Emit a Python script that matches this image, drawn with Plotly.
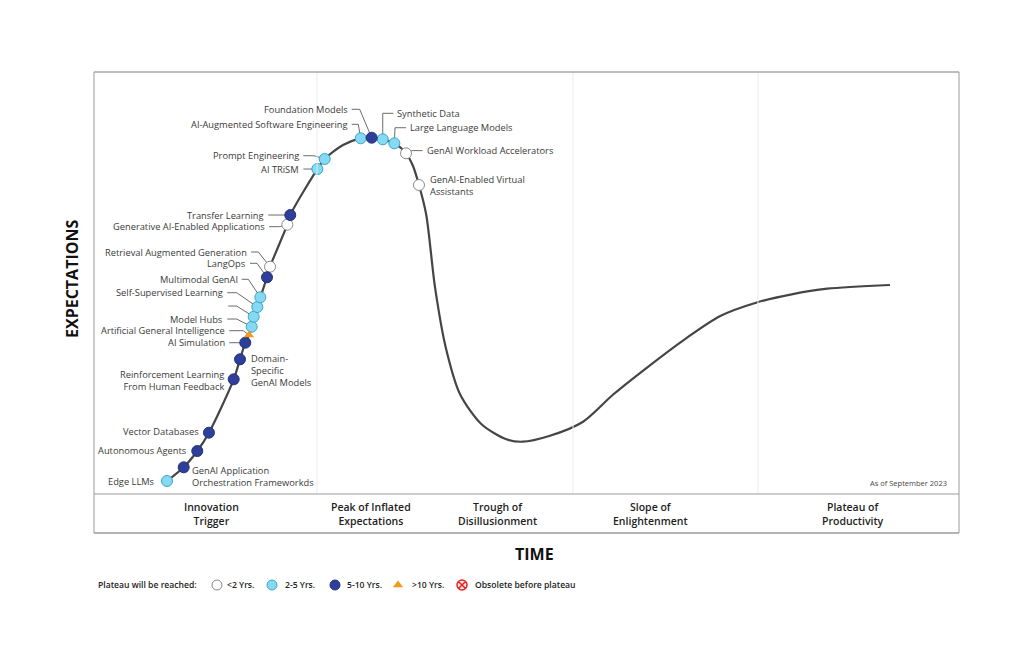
import plotly.graph_objects as go

# ---------------- data ----------------
# Hype curve: time (% of x extent) vs expectations (% of y extent)
curve_time = [8.44, 10.37, 11.94, 13.29, 16.15, 16.88, 17.49, 17.92, 18.23, 18.46, 18.88, 19.23,
              20.0, 20.35, 22.35, 22.69, 25.82, 26.67, 28.79, 30.83, 32.10, 33.38, 34.72, 36.07,
              36.88, 37.57, 38.40, 39.43, 40.67, 42.32, 44.80, 47.68, 49.54, 52.62, 56.54, 60.05,
              64.16, 68.29, 72.40, 76.53, 80.65, 84.77, 92.02]
curve_expect = [3.08, 6.33, 10.19, 14.53, 27.18, 31.92, 35.85, 37.68, 39.64, 42.01, 44.31, 46.61,
                51.35, 53.86, 63.82, 66.11, 77.01, 79.38, 82.70, 84.29, 84.43, 84.05, 83.10, 80.73,
                77.73, 73.22, 66.28, 48.89, 34.67, 23.63, 16.52, 12.96, 12.39, 13.74, 17.13, 23.63,
                30.33, 36.66, 42.18, 45.33, 47.32, 48.65, 49.53]

tech_names = ["Edge LLMs", "GenAI Application<br>Orchestration Frameworkds", "Autonomous Agents",
              "Vector Databases", "Reinforcement Learning<br>From Human Feedback",
              "Domain-<br>Specific<br>GenAI Models", "AI Simulation", "Artificial General Intelligence",
              "Model Hubs", "", "Self-Supervised Learning", "Multimodal GenAI", "LangOps",
              "Retrieval Augmented Generation", "Generative AI-Enabled Applications", "Transfer Learning",
              "AI TRiSM", "Prompt Engineering", "AI-Augmented Software Engineering", "Foundation Models",
              "Synthetic Data", "Large Language Models", "GenAI Workload Accelerators",
              "GenAI-Enabled Virtual<br>Assistants"]
tech_time = [8.44, 10.37, 11.94, 13.29, 16.15, 16.88, 17.49, 17.92, 18.23, 18.46, 18.88, 19.23,
             20.0, 20.35, 22.35, 22.69, 25.82, 26.67, 30.83, 32.10, 33.38, 34.72, 36.07, 37.57]
tech_expect = [3.08, 6.33, 10.19, 14.53, 27.18, 31.92, 35.85, 37.68, 39.64, 42.01, 44.31, 46.61,
               51.35, 53.86, 63.82, 66.11, 77.01, 79.38, 84.29, 84.43, 84.05, 83.10, 80.73, 73.22]
tech_horizon = ["2-5", "5-10", "5-10", "5-10", "5-10", "5-10", "5-10", ">10", "2-5", "2-5", "2-5", "2-5",
                "5-10", "<2", "<2", "5-10", "2-5", "2-5", "2-5", "5-10", "2-5", "2-5", "<2", "<2"]

horizon_keys = ["<2", "2-5", "5-10", ">10", "obsolete"]
horizon_labels = ["&lt;2 Yrs.", "2-5 Yrs.", "5-10 Yrs.", "&gt;10 Yrs.", "Obsolete before plateau"]

phase_names = ["Innovation<br>Trigger", "Peak of Inflated<br>Expectations", "Trough of<br>Disillusionment",
               "Slope of<br>Enlightenment", "Plateau of<br>Productivity"]
phase_label_time = [13.53, 32.02, 46.59, 64.39, 87.75]
phase_dividers = [25.78, 55.38, 76.76]

# ---------------- styling / layout ----------------
OFF = 8                      # page body margin of the html page
W, H = 1024 - OFF, 664 - OFF
L, R, T, B = 94, 959, 72, 494   # plot box in window pixels
BAND_B = 533
FONT = "Open Sans"
PX_X = (R - L) / 100.0          # pixels per x unit
PX_Y = (B - T) / 100.0          # pixels per y unit

def fx(x):
    return (x - OFF) / W

def fy(y):
    return 1 - (y - OFF) / H

styles = {
    "<2": dict(symbol="circle", color="#ffffff", line=dict(color="#8a8a8a", width=1), size=11),
    "2-5": dict(symbol="circle", color="#86d9f2", line=dict(color="#3aa6c8", width=1), size=11),
    "5-10": dict(symbol="circle", color="#2f3f99", line=dict(color="#24317a", width=1), size=11),
    ">10": dict(symbol="triangle-up", color="#f39a1e", line=dict(color="#f39a1e", width=0), size=9),
    "obsolete": dict(symbol="circle-x", color="#ffe3e3", line=dict(color="#e02626", width=1.5), size=11),
}

# label placement per technology (screen px, y down):
#   ('s', dx, dy, anchor)                     plain shifted text
#   ('a', tail_dx, tail_dy, anchor, elbow_dx) text with elbowed leader line
label_layout = [
    ("s", -10, 0, "right"), ("s", 6, 9, "left"), ("s", -8, -1, "right"), ("s", -8, -1, "right"),
    ("s", -8, 1, "right"), ("s", 9, 11, "left"),
    ("a", -16, 0, "right", -8),        # AI Simulation
    ("a", -19.7, -4.3, "right", -5.7),  # AGI
    ("a", -24.4, -7.7, "right", -15),   # Model Hubs
    ("a", -25.4, -10.7, "right", -17),  # blank
    ("a", -30, -14.3, "right", -20.6),  # SSL
    ("a", -18.6, -18, "right", -12),    # Multimodal
    ("a", -17, -14, "right", -10),      # LangOps
    ("a", -19, -14.7, "right", -11.7),  # RAG
    ("a", -18.3, 2, "right", -8),       # GenAI-enabled apps
    ("a", -22, 0, "right", -11),        # Transfer learning
    ("a", -14, 0, "right", -7),         # AI TRiSM
    ("a", -21.4, -3.3, "right", -10.7), # Prompt eng
    ("a", -9, -14, "right", -2.4),      # AI-aug SE
    ("a", -20, -28.4, "right", -12),    # Foundation models
    ("a", 10.6, -26, "left", 0),        # Synthetic data
    ("a", 11.7, -15.6, "left", 0.7),    # LLM
    ("a", 16.6, -2.7, "left", 6),       # Workload accel
    ("s", 9, 0, "left"),
]

fig = go.Figure()

fig.add_trace(go.Scatter(x=curve_time, y=curve_expect, mode="lines",
                         line=dict(color="#454545", width=2.2, shape="spline", smoothing=0.8),
                         hoverinfo="skip", showlegend=False))

# leader lines (drawn under the markers)
lx, ly = [], []
for t, e, lay in zip(tech_time, tech_expect, label_layout):
    if lay[0] != "a":
        continue
    _, tdx, tdy, _, edx = lay
    lx += [t + tdx / PX_X, t + edx / PX_X, t, None]
    ly += [e - tdy / PX_Y, e - tdy / PX_Y, e, None]
fig.add_trace(go.Scatter(x=lx, y=ly, mode="lines", line=dict(color="#5a5a5a", width=0.9),
                         hoverinfo="skip", showlegend=False))

for key in ["<2", "2-5", "5-10", ">10"]:
    idx = [i for i, h in enumerate(tech_horizon) if h == key]
    st = styles[key]
    fig.add_trace(go.Scatter(
        x=[tech_time[i] for i in idx], y=[tech_expect[i] for i in idx], mode="markers",
        marker=dict(symbol=st["symbol"], color=st["color"], size=st["size"], line=st["line"]),
        text=[tech_names[i] for i in idx], hoverinfo="text", showlegend=False))

annotations = []
label_font = dict(family=FONT, size=9.3, color="#3a3a3a")
for name, t, e, lay in zip(tech_names, tech_time, tech_expect, label_layout):
    if not name:
        continue
    mode, dx, dy, xa = lay[:4]
    if mode == "a":
        dx = dx - 2 if xa == "right" else dx + 2
    annotations.append(dict(x=t, y=e, xref="x", yref="y", text=name, showarrow=False,
                            xshift=dx, yshift=-dy, xanchor=xa, yanchor="middle", align=xa,
                            font=label_font))

# phase labels in band
for name, t in zip(phase_names, phase_label_time):
    annotations.append(dict(x=t, y=fy((B + BAND_B) / 2), xref="x", yref="paper", text=name,
                            showarrow=False, xanchor="center", yanchor="middle",
                            font=dict(family=FONT, size=10.5, color="#1e1e1e", weight=600)))

annotations += [
    dict(x=fx(72), y=fy(279), xref="paper", yref="paper", text="<b>EXPECTATIONS</b>", textangle=-90,
         showarrow=False, xanchor="center", yanchor="middle",
         font=dict(family=FONT, size=16, color="#111111")),
    dict(x=fx(534), y=fy(554), xref="paper", yref="paper", text="<b>TIME</b>", showarrow=False,
         xanchor="center", yanchor="middle", font=dict(family=FONT, size=16, color="#111111")),
    dict(x=fx(949), y=fy(483), xref="paper", yref="paper", text="As of September 2023", showarrow=False,
         xanchor="right", yanchor="middle", font=dict(family=FONT, size=7.5, color="#444444")),
    dict(x=fx(96), y=fy(585), xref="paper", yref="paper", text="Plateau will be reached:", showarrow=False,
         xanchor="left", yanchor="middle", font=dict(family=FONT, size=8.6, color="#222222", weight=600)),
]

# manual legend
leg_marker_x = [217, 272, 335, 398, 462]
leg_text_x = [225, 283, 345, 410, 473]
for key, lab, mx, tx in zip(horizon_keys, horizon_labels, leg_marker_x, leg_text_x):
    st = styles[key]
    fig.add_trace(go.Scatter(x=[mx], y=[0.5], xaxis="x2", yaxis="y2", mode="markers",
                             marker=dict(symbol=st["symbol"], color=st["color"],
                                         size=min(st["size"], 10), line=st["line"]),
                             hoverinfo="skip", showlegend=False))
    annotations.append(dict(x=fx(tx), y=fy(585), xref="paper", yref="paper", text=lab,
                            showarrow=False, xanchor="left", yanchor="middle",
                            font=dict(family=FONT, size=8.6, color="#222222", weight=600)))

shapes = []
grey = "#9a9a9a"
for d in phase_dividers:
    shapes.append(dict(type="line", xref="x", yref="paper", x0=d, x1=d, y0=fy(B), y1=fy(T),
                       line=dict(color="#ececec", width=1)))
shapes += [
    dict(type="line", xref="paper", yref="paper", x0=fx(L), x1=fx(R), y0=fy(T), y1=fy(T),
         line=dict(color="#bdbdbd", width=2)),
    dict(type="line", xref="paper", yref="paper", x0=fx(L), x1=fx(L), y0=fy(T), y1=fy(BAND_B),
         line=dict(color=grey, width=1)),
    dict(type="line", xref="paper", yref="paper", x0=fx(R), x1=fx(R), y0=fy(T), y1=fy(BAND_B),
         line=dict(color=grey, width=1)),
    dict(type="line", xref="paper", yref="paper", x0=fx(L), x1=fx(R), y0=fy(B), y1=fy(B),
         line=dict(color=grey, width=1)),
    dict(type="line", xref="paper", yref="paper", x0=fx(L), x1=fx(R), y0=fy(BAND_B), y1=fy(BAND_B),
         line=dict(color=grey, width=1.5)),
]

fig.update_layout(
    width=W, height=H, margin=dict(l=0, r=0, t=0, b=0),
    paper_bgcolor="white", plot_bgcolor="white",
    xaxis=dict(domain=[fx(L), fx(R)], range=[0, 100], visible=False, fixedrange=True),
    yaxis=dict(domain=[fy(B), fy(T)], range=[0, 100], visible=False, fixedrange=True),
    xaxis2=dict(domain=[0, 1], range=[OFF, OFF + W], visible=False, anchor="y2", fixedrange=True),
    yaxis2=dict(domain=[fy(595), fy(575)], range=[0, 1], visible=False, anchor="x2", fixedrange=True),
    annotations=annotations, shapes=shapes, showlegend=False,
    font=dict(family=FONT),
)

fig.write_html("out.html")
